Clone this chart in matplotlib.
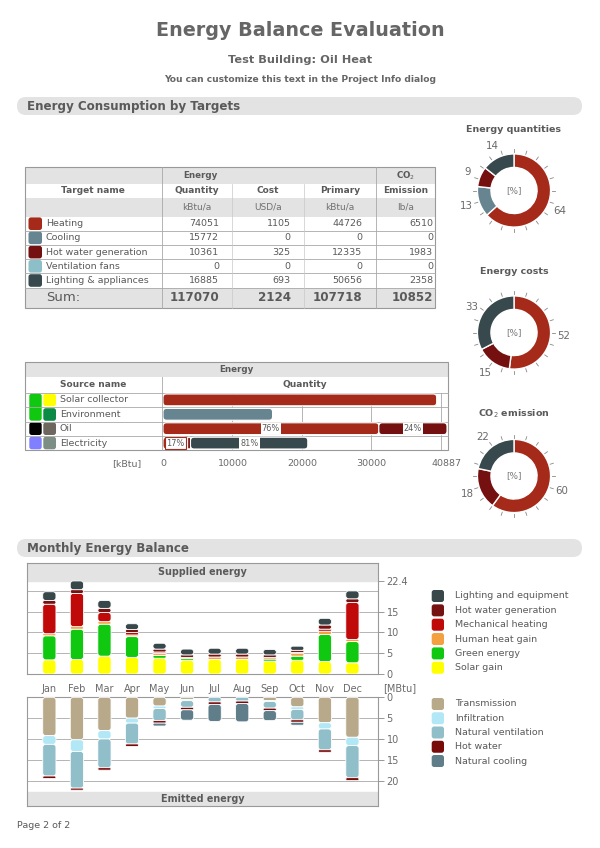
import numpy as np
import matplotlib.pyplot as plt
from matplotlib.patches import FancyBboxPatch, Rectangle

W, H = 600, 848
TXT = "#5a5a5a"
GRID = "#a8a8a8"
BAND = "#e3e3e3"

# ---- consumption by targets
targets = ["Heating", "Cooling", "Hot water generation", "Ventilation fans", "Lighting & appliances"]
target_colors = ["#a52a1a", "#678590", "#751010", "#8cbfc8", "#37494c"]
quantity = [74051, 15772, 10361, 0, 16885]
cost = [1105, 0, 325, 0, 693]
primary = [44726, 0, 12335, 0, 50656]
co2 = [6510, 0, 1983, 0, 2358]
sums = [117070, 2124, 107718, 10852]
col_names = ["Quantity", "Cost", "Primary", "Emission"]
units = ["kBtu/a", "USD/a", "kBtu/a", "lb/a"]

# donut labels as printed
qty_pct = [64, 13, 9, 0, 14]
cost_pct = [52, 0, 15, 0, 33]
co2_pct = [60, 0, 18, 0, 22]

# ---- sources
sources = ["Solar collector", "Environment", "Oil", "Electricity"]
src_colors_right = ["#ffff00", "#0b8a45", "#6d675e", "#7d8f84"]
src_colors_left = ["#11c811", "#11c811", "#000000", "#7f7fff"]
src_segments = [[39400], [15772], [31074, 9813], [3544, 417, 16885]]
src_seg_colors = [["#a52a1a"], ["#678590"], ["#a52a1a", "#751010"], ["#a52a1a", "#751010", "#37494c"]]
src_seg_labels = [[""], [""], ["76%", "24%"], ["17%", "", "81%"]]
src_ticks = [0, 10000, 20000, 30000, 40887]

# ---- monthly balance [MBtu]
months = ["Jan", "Feb", "Mar", "Apr", "May", "Jun", "Jul", "Aug", "Sep", "Oct", "Nov", "Dec"]
solar_gain = [3.4, 3.5, 4.3, 4.0, 3.8, 3.3, 3.5, 3.5, 3.1, 3.3, 3.0, 2.7]
green_energy = [5.8, 7.3, 7.7, 5.0, 0.7, 0.4, 0.0, 0.0, 0.5, 1.0, 6.5, 5.1]
human_heat = [0.5, 0.6, 0.6, 0.4, 0.5, 0.3, 0.6, 0.6, 0.4, 0.7, 0.8, 0.5]
mech_heating = [7.1, 8.0, 2.2, 0.6, 0.3, 0.0, 0.0, 0.0, 0.0, 0.2, 0.5, 8.9]
hot_water_gen = [0.9, 0.9, 1.0, 0.7, 0.7, 0.6, 0.7, 0.7, 0.6, 0.5, 1.0, 0.9]
lighting = [2.1, 2.1, 1.9, 1.4, 1.4, 1.4, 1.4, 1.4, 1.3, 1.0, 1.6, 1.9]

transmission = [9.2, 10.2, 8.0, 5.0, 2.1, 0.5, 0.0, 0.0, 0.8, 2.3, 6.1, 9.6]
infiltration = [2.1, 2.8, 2.0, 1.2, 0.6, 0.3, 0.0, 0.0, 0.2, 0.6, 1.5, 2.0]
nat_ventilation = [7.6, 8.8, 6.9, 5.0, 2.9, 1.6, 1.1, 0.9, 1.6, 2.5, 5.0, 7.7]
hot_water = [0.6, 0.5, 0.6, 0.6, 0.6, 0.6, 0.6, 0.6, 0.6, 0.6, 0.6, 0.7]
nat_cooling = [0.0, 0.0, 0.0, 0.0, 0.7, 2.5, 4.1, 4.4, 2.4, 0.7, 0.0, 0.0]

supplied = [solar_gain, green_energy, human_heat, mech_heating, hot_water_gen, lighting]
supplied_colors = ["#ffff00", "#11c811", "#f2a040", "#c00a0a", "#761212", "#37474a"]
supplied_names = ["Lighting and equipment", "Hot water generation", "Mechanical heating",
                  "Human heat gain", "Green energy", "Solar gain"]
emitted = [transmission, infiltration, nat_ventilation, hot_water, nat_cooling]
emitted_colors = ["#b8a98b", "#b2e8f6", "#90bfc9", "#780a0a", "#5f7e8a"]
emitted_names = ["Transmission", "Infiltration", "Natural ventilation", "Hot water", "Natural cooling"]

plt.rcParams['font.family'] = ['DejaVu Sans']

fig = plt.figure(figsize=(6, 8.48), dpi=100)
pg = fig.add_axes([0, 0, 1, 1])
pg.set_xlim(0, W)
pg.set_ylim(H, 0)
pg.axis('off')


def px_axes(x0, y0, x1, y1):
    return fig.add_axes([x0 / W, 1 - y1 / H, (x1 - x0) / W, (y1 - y0) / H])


def swatch(x, y, w, h, color):
    pg.add_patch(FancyBboxPatch((x, y), w, h, boxstyle="round,pad=0,rounding_size=2.5",
                                fc=color, ec='none'))


def round_bars(ax, rects, rpx=3.0, lw=0.7):
    # swap the plain bar rectangles for rounded ones of the same size
    pos = ax.get_position()
    xl, yl = ax.get_xlim(), ax.get_ylim()
    upx = abs(xl[1] - xl[0]) / (pos.width * W)
    upy = abs(yl[1] - yl[0]) / (pos.height * H)
    asp = upy / upx
    for r in rects:
        x0, y0, w, h = r.get_x(), r.get_y(), r.get_width(), r.get_height()
        rs = min(rpx * upx, w / 2, h / asp / 2)
        ax.add_patch(FancyBboxPatch((x0, y0), w, h, boxstyle=f"round,pad=0,rounding_size={rs}",
                                    mutation_aspect=asp, fc=r.get_facecolor(), ec='white',
                                    lw=lw, zorder=3))
        r.set_visible(False)


# titles
pg.text(300, 31, "Energy Balance Evaluation", ha='center', va='center', fontsize=13.8,
        weight='bold', color="#666666")
pg.text(300, 60, "Test Building: Oil Heat", ha='center', va='center', fontsize=8.2,
        weight='bold', color="#666666")
pg.text(300, 79, "You can customize this text in the Project Info dialog", ha='center',
        va='center', fontsize=6.6, weight='bold', color="#666666")

for y0, txt in [(97, "Energy Consumption by Targets"), (539, "Monthly Energy Balance")]:
    pg.add_patch(FancyBboxPatch((17, y0), 565, 18, boxstyle="round,pad=0,rounding_size=9",
                                fc=BAND, ec='none'))
    pg.text(27, y0 + 9.5, txt, ha='left', va='center', fontsize=8.6, weight='bold', color="#5a5a5a")

# ---- table 1
cx = [25, 161.7, 232, 304, 376, 435]
ry = [167.3, 184, 197.7, 216.7, 230.7, 245, 259.3, 273.3, 287.7, 307.7]
for (a, b, c) in [(ry[0], ry[1], BAND), (ry[1], ry[2], 'white'), (ry[2], ry[3], BAND),
                  (ry[3], ry[8], 'white'), (ry[8], ry[9], BAND)]:
    pg.add_patch(Rectangle((cx[0], a), cx[-1] - cx[0], b - a, fc=c, ec='none'))
for yy in ry[4:9]:
    pg.plot([cx[0], cx[-1]], [yy, yy], color=GRID, lw=0.6)
for xx in [cx[1], cx[4]]:
    pg.plot([xx, xx], [ry[0], ry[-1]], color=GRID, lw=0.6)
for xx in [cx[2], cx[3]]:
    pg.plot([xx, xx], [ry[1], ry[-1]], color="#c8c8c8", lw=0.5)
pg.add_patch(Rectangle((cx[0], ry[0]), cx[-1] - cx[0], ry[-1] - ry[0], fc='none', ec="#999999", lw=0.8))

pg.text((cx[0] + cx[4]) / 2, (ry[0] + ry[1]) / 2, "Energy", ha='center', va='center',
        fontsize=6.3, weight='bold', color=TXT)
pg.text((cx[4] + cx[5]) / 2, (ry[0] + ry[1]) / 2, "CO$_2$", ha='center', va='center',
        fontsize=6.3, weight='bold', color=TXT)
pg.text(93, (ry[1] + ry[2]) / 2, "Target name", ha='center', va='center', fontsize=6.5,
        weight='bold', color=TXT)
centers = [196.7, 268, 340, 405.5]
rights = [219.3, 290.7, 362.3, 433]
for i in range(4):
    pg.text(centers[i], (ry[1] + ry[2]) / 2, col_names[i], ha='center', va='center',
            fontsize=6.5, weight='bold', color=TXT)
    pg.text(centers[i], (ry[2] + ry[3]) / 2, units[i], ha='center', va='center',
            fontsize=6.5, color="#707070")
for r, name in enumerate(targets):
    yc = (ry[3 + r] + ry[4 + r]) / 2
    swatch(28.5, yc - 6.3, 13.5, 12.6, target_colors[r])
    pg.text(46, yc, name, ha='left', va='center', fontsize=6.8, color=TXT)
    for i, col in enumerate([quantity, cost, primary, co2]):
        pg.text(rights[i], yc, str(col[r]), ha='right', va='center', fontsize=6.8, color=TXT)
ys = (ry[8] + ry[9]) / 2
pg.text(46, ys, "Sum:", ha='left', va='center', fontsize=9.5, color=TXT)
for i in range(4):
    pg.text(rights[i], ys, str(sums[i]), ha='right', va='center', fontsize=8.6, weight='bold', color=TXT)

# ---- table 2 (sources)
sx = [25, 161.7, 448.3]
sy = [362.3, 376.7, 392.7, 407.3, 421.7, 435.7, 450.3]
pg.add_patch(Rectangle((sx[0], sy[0]), sx[2] - sx[0], sy[1] - sy[0], fc=BAND, ec='none'))
for yy in sy[2:6]:
    pg.plot([sx[0], sx[2]], [yy, yy], color=GRID, lw=0.6)
pg.plot([sx[1], sx[1]], [sy[1], sy[-1]], color=GRID, lw=0.6)
pg.add_patch(Rectangle((sx[0], sy[0]), sx[2] - sx[0], sy[-1] - sy[0], fc='none', ec="#999999", lw=0.8))
pg.text((sx[0] + sx[2]) / 2, (sy[0] + sy[1]) / 2, "Energy", ha='center', va='center',
        fontsize=6.3, weight='bold', color=TXT)
pg.text(93, (sy[1] + sy[2]) / 2, "Source name", ha='center', va='center', fontsize=6.5,
        weight='bold', color=TXT)
pg.text((sx[1] + sx[2]) / 2, (sy[1] + sy[2]) / 2, "Quantity", ha='center', va='center',
        fontsize=6.5, weight='bold', color=TXT)
for r, name in enumerate(sources):
    yc = (sy[2 + r] + sy[3 + r]) / 2
    swatch(43.3, yc - 6.3, 12.7, 12.6, src_colors_right[r])
    pg.text(60, yc, name, ha='left', va='center', fontsize=6.8, color=TXT)
# left swatches (solar collector + environment share one)
swatch(29.3, sy[2] + 1, 12.4, sy[4] - sy[2] - 2, src_colors_left[0])
for r in [2, 3]:
    yc = (sy[2 + r] + sy[3 + r]) / 2
    swatch(29.3, yc - 6.3, 12.4, 12.6, src_colors_left[r])

axs = px_axes(163, sy[2], 447, sy[-1])
axs.patch.set_alpha(0)
src_rects = []
for r in range(4):
    left = 0
    for v, c, lab in zip(src_segments[r], src_seg_colors[r], src_seg_labels[r]):
        src_rects += list(axs.barh(r, v, 0.82, left=left, color=c, zorder=3))
        if lab:
            axs.text(left + v / 2, r, lab, ha='center', va='center', fontsize=5.9, color=TXT, zorder=4,
                     bbox=dict(boxstyle='square,pad=0.15', fc='white',
                               ec=c if lab == "17%" else 'none', lw=0.8))
        left += v
for g in [10000, 20000, 30000, 40000]:
    axs.axvline(g, color=GRID, lw=0.6, zorder=1)
axs.set_xlim(0, 40887)
axs.set_ylim(3.5, -0.5)
axs.set_yticks([])
axs.set_xticks(src_ticks)
axs.set_xticklabels([str(t) for t in src_ticks], fontsize=6.8, color="#6a6a6a")
axs.tick_params(axis='x', length=0, pad=6)
for s in axs.spines.values():
    s.set_visible(False)
round_bars(axs, src_rects, 3.5, 0.8)
pg.text(141, 463.5, "[kBtu]", ha='right', va='center', fontsize=6.8, color="#6a6a6a")


# ---- donuts
def donut(cxp, cyp, title, vals, pcts, ty):
    ax = px_axes(cxp - 60, cyp - 60, cxp + 60, cyp + 60)
    keep = [i for i in range(len(vals)) if vals[i] > 0]
    v = [vals[i] for i in keep]
    ax.pie(v, colors=[target_colors[i] for i in keep], startangle=90, counterclock=False,
           radius=1, wedgeprops=dict(width=0.37, edgecolor='white', linewidth=1))
    ang = np.deg2rad(90 - np.arange(20) * 18)
    for a in ang:
        ax.plot([1.04 * np.cos(a), 1.13 * np.cos(a)], [1.04 * np.sin(a), 1.13 * np.sin(a)],
                color="#888888", lw=0.6)
    tot = float(sum(v))
    cum = 0
    for i, val in zip(keep, v):
        mid = np.deg2rad(90 - (cum + val / 2) / tot * 360)
        cum += val
        ax.text(1.36 * np.cos(mid), 1.36 * np.sin(mid), str(pcts[i]), ha='center', va='center',
                fontsize=7.4, color="#6a6a6a")
    ax.text(0, 0, "[%]", ha='center', va='center', fontsize=6.4, color="#7a7a7a")
    ax.set_xlim(-1.64, 1.64)
    ax.set_ylim(-1.64, 1.64)
    ax.set_aspect('equal')
    ax.axis('off')
    pg.text(cxp, ty, title, ha='center', va='center', fontsize=6.8, weight='bold', color=TXT)


donut(514, 190.5, "Energy quantities", quantity, qty_pct, 129)
donut(514, 332.5, "Energy costs", cost, cost_pct, 271)
donut(514, 476, "CO$_2$ emission", co2, co2_pct, 414)

# ---- monthly charts
x = np.arange(12)


def stack(ax, series, colors):
    bottom = np.zeros(12)
    rects = []
    for vals, col in zip(series, colors):
        vals = np.array(vals)
        m = vals > 0
        rects += list(ax.bar(x[m], vals[m], 0.48, bottom=bottom[m], color=col, zorder=3))
        bottom += vals
    return rects


def frame(ax):
    for s in ax.spines.values():
        s.set_color("#999999")
        s.set_linewidth(0.8)
    ax.yaxis.tick_right()
    ax.tick_params(axis='y', length=4, width=0.6, color="#888888", labelsize=7, labelcolor="#6a6a6a", pad=2)
    for g in [5, 10, 15, 20]:
        ax.axhline(g, color=GRID, lw=0.6, zorder=1)
    ax.set_xlim(-0.8, 11.94)


ax1 = px_axes(27.3, 563.3, 378.3, 674)
r1 = stack(ax1, supplied, supplied_colors)
frame(ax1)
ax1.set_ylim(0, 26.65)
ax1.axhspan(22.5, 26.65, color=BAND, zorder=2)
ax1.text(5.57, 24.6, "Supplied energy", ha='center', va='center', fontsize=6.9, weight='bold', color=TXT)
ax1.set_yticks([0, 5, 10, 15, 22.4])
ax1.set_yticklabels(["0", "5", "10", "15", "22.4"])
ax1.set_xticks(x)
ax1.set_xticklabels(months)
ax1.tick_params(axis='x', length=0, pad=7, labelsize=7, labelcolor="#6a6a6a")
round_bars(ax1, r1, 3.0, 0.6)
pg.text(383, 688, "[MBtu]", ha='left', va='center', fontsize=7, color="#6a6a6a")

ax2 = px_axes(27.3, 697.3, 378.3, 806)
r2 = stack(ax2, emitted, emitted_colors)
frame(ax2)
ax2.set_ylim(26.1, 0)
ax2.axhspan(22.7, 26.1, color=BAND, zorder=2)
ax2.text(5.57, 24.4, "Emitted energy", ha='center', va='center', fontsize=6.9, weight='bold', color=TXT)
ax2.set_yticks([0, 5, 10, 15, 20])
ax2.set_xticks([])
round_bars(ax2, r2, 3.0, 0.6)

# legends
for i, (nm, c) in enumerate(zip(supplied_names, supplied_colors[::-1])):
    yy = 596 + i * 14.35
    swatch(431.7, yy - 6, 12.3, 12, c)
    pg.text(455, yy, nm, ha='left', va='center', fontsize=6.8, color="#5a5a5a")
for i, (nm, c) in enumerate(zip(emitted_names, emitted_colors)):
    yy = 704 + i * 14.25
    swatch(431.7, yy - 6, 12.3, 12, c)
    pg.text(455, yy, nm, ha='left', va='center', fontsize=6.8, color="#5a5a5a")

pg.text(17, 826, "Page 2 of 2", ha='left', va='center', fontsize=6.8, color="#5a5a5a")

fig.savefig("out.png", dpi=100)
